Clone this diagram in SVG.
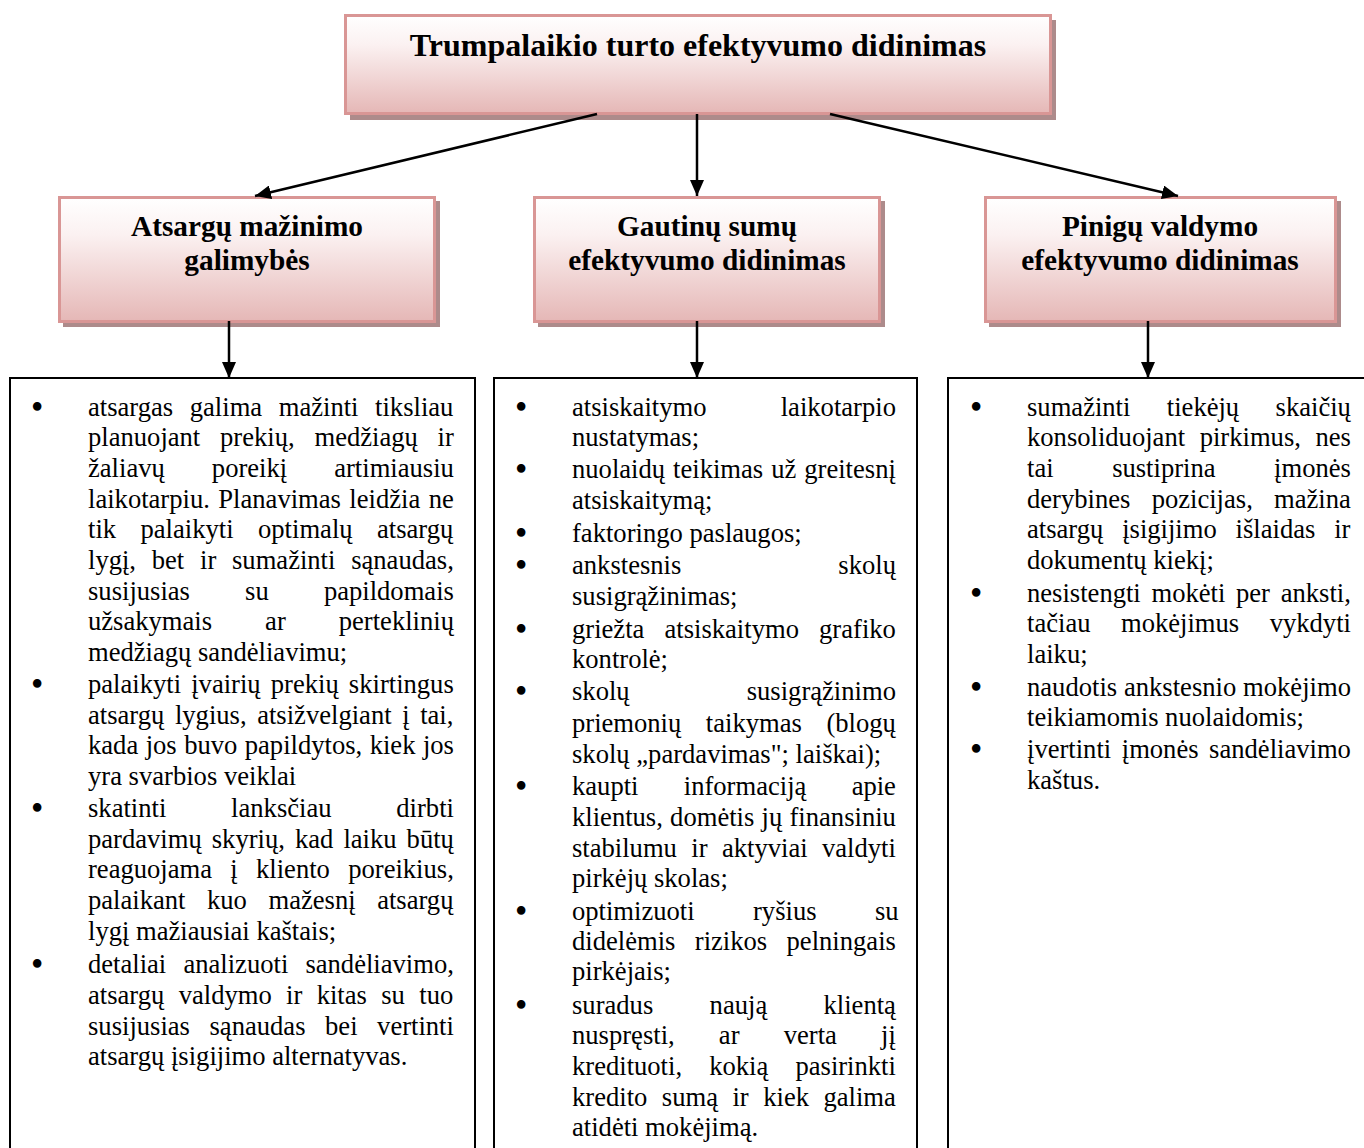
<svg xmlns="http://www.w3.org/2000/svg" width="1364" height="1148" viewBox="0 0 1364 1148">
  <defs>
    <linearGradient id="pink" x1="0" y1="0" x2="0" y2="1">
      <stop offset="0" stop-color="#ffffff"/>
      <stop offset="0.3" stop-color="#fbf1f1"/>
      <stop offset="1" stop-color="#e5b7b6"/>
    </linearGradient>
    <marker id="arrow" viewBox="0 0 16 14" refX="16" refY="7" markerWidth="16" markerHeight="14" markerUnits="userSpaceOnUse" orient="auto">
      <path d="M0,0 L16,7 L0,14 Z" fill="#000"/>
    </marker>
    <style>
      .shadow { fill: #ad8b8b; }
      .pbox { fill: url(#pink); stroke: #d99695; stroke-width: 3; }
      .lbox { fill: #fff; stroke: #000; stroke-width: 2; }
      .conn { stroke: #000; stroke-width: 2.5; fill: none; marker-end: url(#arrow); }
      text { font-family: "Liberation Serif", "Times New Roman", serif; fill: #000; }
      .title { font-size: 32px; font-weight: bold; text-anchor: middle; }
      .head { font-size: 29.3px; font-weight: bold; text-anchor: middle; }
      .t { font-size: 26.6px; }
      .b { font-size: 26.6px; stroke: #000; stroke-width: 2.2; }
    </style>
  </defs>

  <rect width="1364" height="1148" fill="#fff"/>

  <!-- top node -->
  <g id="node-root">
    <rect class="shadow" x="350" y="20" width="706" height="100"/>
    <rect class="pbox" x="345.5" y="15.5" width="705" height="98"/>
    <text class="title" x="698" y="56">Trumpalaikio turto efektyvumo didinimas</text>
  </g>

  <!-- second level nodes -->
  <g id="node-inventory">
    <rect class="shadow" x="63" y="201" width="377" height="126"/>
    <rect class="pbox" x="59.5" y="197.5" width="375" height="124"/>
    <text class="head" x="247" y="236">Atsargų mažinimo</text>
    <text class="head" x="247" y="270">galimybės</text>
  </g>
  <g id="node-receivables">
    <rect class="shadow" x="538" y="201" width="347" height="126"/>
    <rect class="pbox" x="534.5" y="197.5" width="345" height="124"/>
    <text class="head" x="707" y="236">Gautinų sumų</text>
    <text class="head" x="707" y="270">efektyvumo didinimas</text>
  </g>
  <g id="node-cash">
    <rect class="shadow" x="989" y="201" width="352" height="126"/>
    <rect class="pbox" x="985.5" y="197.5" width="350" height="124"/>
    <text class="head" x="1160" y="236">Pinigų valdymo</text>
    <text class="head" x="1160" y="270">efektyvumo didinimas</text>
  </g>

  <!-- connectors -->
  <g id="connectors">
    <line class="conn" x1="597" y1="114" x2="255" y2="196"/>
    <line class="conn" x1="697" y1="114" x2="697" y2="196"/>
    <line class="conn" x1="830" y1="114" x2="1178" y2="196"/>
    <line class="conn" x1="229" y1="321" x2="229" y2="378"/>
    <line class="conn" x1="697" y1="321" x2="697" y2="378"/>
    <line class="conn" x1="1148" y1="321" x2="1148" y2="378"/>
  </g>

  <!-- list: inventory -->
  <g id="list-inventory">
    <rect class="lbox" x="10" y="378" width="465" height="800"/>
    <g class="b">
      <text x="32.5" y="416">•</text>
      <text x="32.5" y="693">•</text>
      <text x="32.5" y="817">•</text>
      <text x="32.5" y="973">•</text>
    </g>
    <g class="t">
      <text x="88" y="416" word-spacing="9.95">atsargas galima mažinti tiksliau</text>
      <text x="88" y="446" word-spacing="13.15">planuojant prekių, medžiagų ir</text>
      <text x="88" y="477" word-spacing="40.4">žaliavų poreikį artimiausiu</text>
      <text x="88" y="508" word-spacing="1.8">laikotarpiu. Planavimas leidžia ne</text>
      <text x="88" y="538" word-spacing="17.8">tik palaikyti optimalų atsargų</text>
      <text x="88" y="569" word-spacing="9.1">lygį, bet ir sumažinti sąnaudas,</text>
      <text x="88" y="600" word-spacing="48.5">susijusias su papildomais</text>
      <text x="88" y="630" word-spacing="46.35">užsakymais ar perteklinių</text>
      <text x="88" y="661">medžiagų sandėliavimu;</text>

      <text x="88" y="693" word-spacing="3.5">palaikyti įvairių prekių skirtingus</text>
      <text x="88" y="724" word-spacing="3.95">atsargų lygius, atsižvelgiant į tai,</text>
      <text x="88" y="754" word-spacing="0.8">kada jos buvo papildytos, kiek jos</text>
      <text x="88" y="785">yra svarbios veiklai</text>

      <text x="88" y="817" word-spacing="58.15">skatinti lanksčiau dirbti</text>
      <text x="88" y="848" word-spacing="3.4">pardavimų skyrių, kad laiku būtų</text>
      <text x="88" y="878" word-spacing="11.65">reaguojama į kliento poreikius,</text>
      <text x="88" y="909" word-spacing="14.9">palaikant kuo mažesnį atsargų</text>
      <text x="88" y="940">lygį mažiausiai kaštais;</text>

      <text x="88" y="973" word-spacing="10.5">detaliai analizuoti sandėliavimo,</text>
      <text x="88" y="1004" word-spacing="7.7">atsargų valdymo ir kitas su tuo</text>
      <text x="88" y="1035" word-spacing="12.9">susijusias sąnaudas bei vertinti</text>
      <text x="88" y="1065">atsargų įsigijimo alternatyvas.</text>
    </g>
  </g>

  <!-- list: receivables -->
  <g id="list-receivables">
    <rect class="lbox" x="494" y="378" width="423" height="800"/>
    <g class="b">
      <text x="516.5" y="416">•</text>
      <text x="516.5" y="478">•</text>
      <text x="516.5" y="542">•</text>
      <text x="516.5" y="574">•</text>
      <text x="516.5" y="638">•</text>
      <text x="516.5" y="700">•</text>
      <text x="516.5" y="795">•</text>
      <text x="516.5" y="920">•</text>
      <text x="516.5" y="1014">•</text>
    </g>
    <g class="t">
      <text x="572" y="416" word-spacing="67.65">atsiskaitymo laikotarpio</text>
      <text x="572" y="446">nustatymas;</text>

      <text x="572" y="478" word-spacing="1.35">nuolaidų teikimas už greitesnį</text>
      <text x="572" y="509">atsiskaitymą;</text>

      <text x="572" y="542">faktoringo paslaugos;</text>

      <text x="572" y="574" word-spacing="150.35">ankstesnis skolų</text>
      <text x="572" y="605">susigrąžinimas;</text>

      <text x="572" y="638" word-spacing="13.5">griežta atsiskaitymo grafiko</text>
      <text x="572" y="668">kontrolė;</text>

      <text x="572" y="700" word-spacing="110.45">skolų susigrąžinimo</text>
      <text x="572" y="732" word-spacing="17.9">priemonių taikymas (blogų</text>
      <text x="572" y="763">skolų „pardavimas"; laiškai);</text>

      <text x="572" y="795" word-spacing="38.65">kaupti informaciją apie</text>
      <text x="572" y="826" word-spacing="0.6">klientus, domėtis jų finansiniu</text>
      <text x="572" y="857" word-spacing="7.75">stabilumu ir aktyviai valdyti</text>
      <text x="572" y="887">pirkėjų skolas;</text>

      <text x="572" y="920" word-spacing="51.75">optimizuoti ryšius su</text>
      <text x="572" y="950" word-spacing="12.75">didelėmis rizikos pelningais</text>
      <text x="572" y="980">pirkėjais;</text>

      <text x="572" y="1014" word-spacing="49.7">suradus naują klientą</text>
      <text x="572" y="1044" word-spacing="37.55">nuspręsti, ar verta jį</text>
      <text x="572" y="1075" word-spacing="20.5">kredituoti, kokią pasirinkti</text>
      <text x="572" y="1106" word-spacing="7.85">kredito sumą ir kiek galima</text>
      <text x="572" y="1136">atidėti mokėjimą.</text>
    </g>
  </g>

  <!-- list: cash -->
  <g id="list-cash">
    <rect class="lbox" x="948" y="378" width="430" height="800"/>
    <g class="b">
      <text x="971.5" y="416">•</text>
      <text x="971.5" y="602">•</text>
      <text x="971.5" y="696">•</text>
      <text x="971.5" y="758">•</text>
    </g>
    <g class="t">
      <text x="1027" y="416" word-spacing="29.75">sumažinti tiekėjų skaičių</text>
      <text x="1027" y="446" word-spacing="7.95">konsoliduojant pirkimus, nes</text>
      <text x="1027" y="477" word-spacing="51.9">tai sustiprina įmonės</text>
      <text x="1027" y="508" word-spacing="14.6">derybines pozicijas, mažina</text>
      <text x="1027" y="538" word-spacing="12.2">atsargų įsigijimo išlaidas ir</text>
      <text x="1027" y="569">dokumentų kiekį;</text>

      <text x="1027" y="602" word-spacing="4.05">nesistengti mokėti per anksti,</text>
      <text x="1027" y="632" word-spacing="23.85">tačiau mokėjimus vykdyti</text>
      <text x="1027" y="663">laiku;</text>

      <text x="1027" y="696" word-spacing="0.2">naudotis ankstesnio mokėjimo</text>
      <text x="1027" y="726">teikiamomis nuolaidomis;</text>

      <text x="1027" y="758" word-spacing="3.9">įvertinti įmonės sandėliavimo</text>
      <text x="1027" y="789">kaštus.</text>
    </g>
  </g>
</svg>
